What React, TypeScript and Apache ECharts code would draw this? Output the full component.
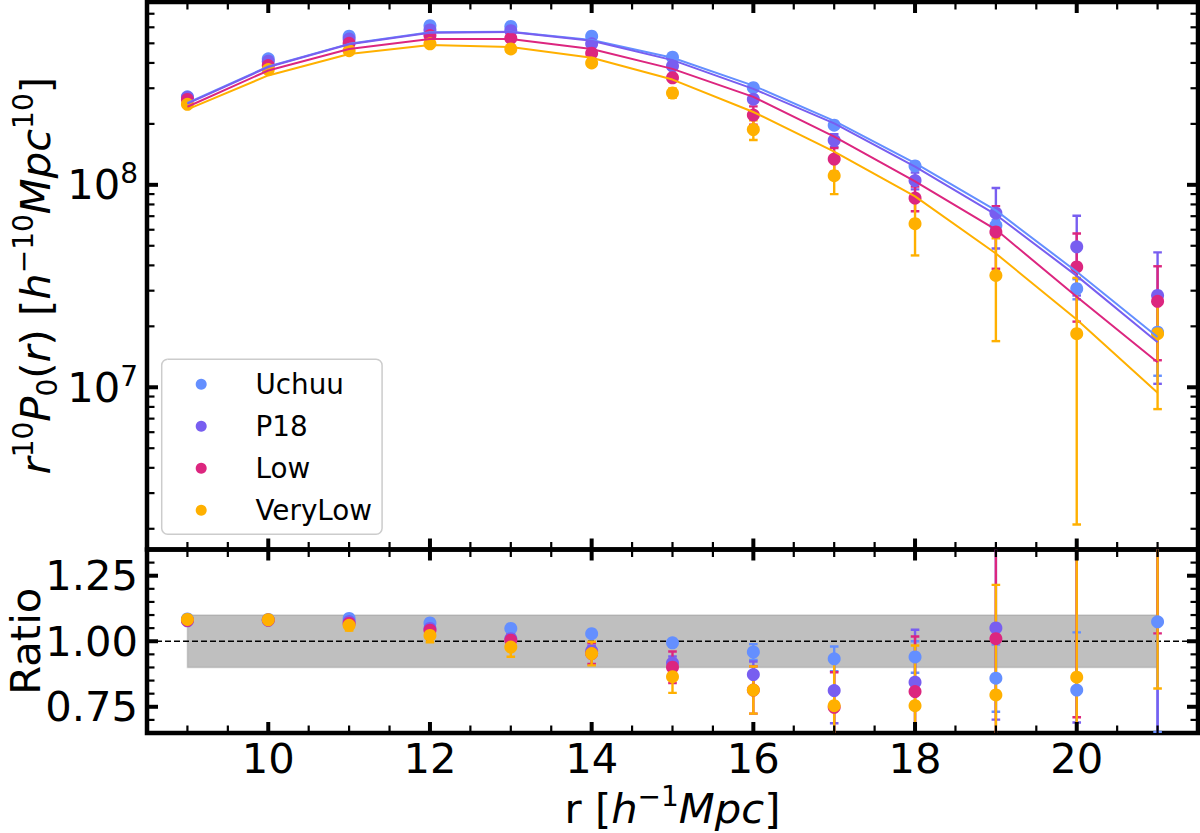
import React, { useEffect, useRef } from 'react';
import * as echarts from 'echarts';

// ---------- data ----------
const rValues = [9, 10, 11, 12, 13, 14, 15, 16, 17, 18, 19, 20, 21];
const seriesNames = ['Uchuu', 'P18', 'Low', 'VeryLow'];
const seriesColors = ['#648FFF', '#785EF0', '#DC267F', '#FFB000'];

// r^10 P0(r) measurements
const uchuuP0 = [2.72e8, 4.19e8, 5.42e8, 6.11e8, 6.06e8, 5.42e8, 4.27e8, 3.02e8, 1.97e8, 1.24e8, 6.29e7, 3.07e7, 1.87e7];
const p18P0 = [2.70e8, 4.08e8, 5.25e8, 5.82e8, 5.77e8, 4.97e8, 3.86e8, 2.65e8, 1.66e8, 1.05e8, 7.25e7, 4.94e7, 2.84e7];
const lowP0 = [2.64e8, 3.88e8, 5.0e8, 5.46e8, 5.29e8, 4.47e8, 3.38e8, 2.21e8, 1.34e8, 8.6e7, 5.85e7, 3.93e7, 2.66e7];
const veryLowP0 = [2.5e8, 3.71e8, 4.6e8, 4.97e8, 4.69e8, 4.0e8, 2.84e8, 1.876e8, 1.11e8, 6.43e7, 3.57e7, 1.84e7, 1.84e7];

// 1-sigma errors
const uchuuP0Err = [3e6, 5e6, 6e6, 7e6, 7e6, 6e6, 5e6, 5e6, 5e6, 5e6, 4e6, 3.5e6, 7.3e6];
const p18P0Err = [4e6, 6e6, 8e6, 9e6, 9e6, 8e6, 7e6, 8e6, 1.2e7, 1.0e7, 2.4e7, 2.1e7, 1.8e7];
const lowP0Err = [5e6, 8e6, 1e7, 1.1e7, 1.1e7, 1.1e7, 1.2e7, 2.3e7, 1.8e7, 1.2e7, 2.0e7, 1.82e7, 1.3e7];
const veryLowP0Err = [6e6, 1e7, 1.2e7, 1.3e7, 1.4e7, 1.5e7, 1.5e7, 2.1e7, 2.1e7, 1.95e7, 1.88e7, 1.63e7, 1.06e7];

// model curves
const uchuuModel = [2.54e8, 3.84e8, 4.97e8, 5.67e8, 5.71e8, 5.19e8, 4.24e8, 3.09e8, 2.07e8, 1.28e8, 7.48e7, 3.72e7, 1.77e7];
const p18Model = [2.52e8, 3.82e8, 4.95e8, 5.64e8, 5.68e8, 5.15e8, 4.13e8, 2.98e8, 2.01e8, 1.23e8, 7.12e7, 3.55e7, 1.67e7];
const lowModel = [2.43e8, 3.67e8, 4.69e8, 5.25e8, 5.25e8, 4.69e8, 3.74e8, 2.72e8, 1.73e8, 1.04e8, 6.01e7, 2.8e7, 1.33e7];
const veryLowModel = [2.36e8, 3.47e8, 4.43e8, 4.91e8, 4.79e8, 4.24e8, 3.31e8, 2.29e8, 1.46e8, 8.77e7, 4.58e7, 2.16e7, 9.4e6];

// ratio panel
const uchuuRatio = [1.085, 1.083, 1.087, 1.07, 1.049, 1.029, 0.994, 0.959, 0.933, 0.94, 0.859, 0.814, 1.074];
const p18Ratio = [1.078, 1.08, 1.075, 1.049, 1.01, 0.963, 0.917, 0.873, 0.812, 0.844, 1.051, 1.39, 1.7];
const lowRatio = [1.08, 1.081, 1.068, 1.042, 1.004, 0.953, 0.901, 0.814, 0.748, 0.808, 1.01, 1.4, 2.0];
const veryLowRatio = [1.083, 1.082, 1.061, 1.022, 0.978, 0.953, 0.865, 0.814, 0.754, 0.754, 0.795, 0.863, 1.96];

const uchuuRatioErr = [0.008, 0.008, 0.01, 0.012, 0.012, 0.012, 0.015, 0.03, 0.047, 0.06, 0.128, 0.22, 0.42];
const p18RatioErr = [0.01, 0.01, 0.014, 0.016, 0.016, 0.02, 0.025, 0.05, 0.125, 0.2, 0.35, 0.7, 1.1];
const lowRatioErr = [0.012, 0.012, 0.018, 0.022, 0.025, 0.04, 0.06, 0.09, 0.134, 0.21, 0.4, 0.69, 0.97];
const veryLowRatioErr = [0.014, 0.014, 0.02, 0.026, 0.037, 0.045, 0.062, 0.09, 0.18, 0.23, 0.42, 0.75, 1.14];

const ratioBand = [0.9, 1.1];
const ratioBandR = [9, 21];
const ratioReference = 1.0;

// ticks
const xRange = [8.5, 21.5];
const xTickLabels = [10, 12, 14, 16, 18, 20];
const xMinorTicks = [9, 9.5, 10.5, 11, 11.5, 12.5, 13, 13.5, 14.5, 15, 15.5, 16.5, 17, 17.5, 18.5, 19, 19.5, 20.5, 21];
const topRange = [1.58e6, 8.0e8];
const topMajorTicks = [1e7, 1e8];
const topMinorTicks = [2e6, 3e6, 4e6, 5e6, 6e6, 7e6, 8e6, 9e6, 2e7, 3e7, 4e7, 5e7, 6e7, 7e7, 8e7, 9e7, 2e8, 3e8, 4e8, 5e8, 6e8, 7e8];
const ratioRange = [0.65, 1.35];
const ratioTickLabels = [0.75, 1.0, 1.25];
const ratioMinorTicks = [0.7, 0.8, 0.85, 0.9, 0.95, 1.05, 1.1, 1.15, 1.2, 1.3];

const measured = [uchuuP0, p18P0, lowP0, veryLowP0];
const measuredErr = [uchuuP0Err, p18P0Err, lowP0Err, veryLowP0Err];
const models = [uchuuModel, p18Model, lowModel, veryLowModel];
const ratios = [uchuuRatio, p18Ratio, lowRatio, veryLowRatio];
const ratiosErr = [uchuuRatioErr, p18RatioErr, lowRatioErr, veryLowRatioErr];

// ---------- style ----------
const FONT = 'DejaVu Sans';
const BIG = 41.67;
const SUP = 28;
const LEG = 27.8;

const titleRich = {
  n: { fontFamily: FONT, fontSize: BIG, lineHeight: 52, color: '#000' },
  i: { fontFamily: FONT, fontSize: BIG, lineHeight: 52, fontStyle: 'italic', color: '#000' },
  sup: { fontFamily: FONT, fontSize: SUP, lineHeight: 32, verticalAlign: 'top', color: '#000' },
  sub: { fontFamily: FONT, fontSize: SUP, lineHeight: 32, verticalAlign: 'bottom', color: '#000' },
};

function errorBarRender(color: string, lw: number) {
  return (params: any, api: any) => {
    const x = api.value(0);
    const p1 = api.coord([x, api.value(1)]);
    const p2 = api.coord([x, api.value(2)]);
    const cap = 4.3;
    const style = { stroke: color, lineWidth: lw, fill: 'none' };
    return {
      type: 'group',
      children: [
        { type: 'line', shape: { x1: p1[0], y1: p1[1], x2: p2[0], y2: p2[1] }, style },
        { type: 'line', shape: { x1: p1[0] - cap, y1: p1[1], x2: p1[0] + cap, y2: p1[1] }, style },
        { type: 'line', shape: { x1: p2[0] - cap, y1: p2[1], x2: p2[0] + cap, y2: p2[1] }, style },
      ],
    };
  };
}

function tickRender(params: any, api: any) {
  const cs = params.coordSys;
  const kind = api.value(2);
  const p = api.coord([api.value(0), api.value(1)]);
  const major = kind === 0 || kind === 2;
  const len = major ? 11 : 7.5;
  const style = { stroke: '#000', lineWidth: major ? 4 : 2.2 };
  if (kind < 2) {
    const yb = cs.y + cs.height;
    const yt = cs.y;
    return {
      type: 'group',
      children: [
        { type: 'line', shape: { x1: p[0], y1: yb, x2: p[0], y2: yb - len }, style },
        { type: 'line', shape: { x1: p[0], y1: yt, x2: p[0], y2: yt + len }, style },
      ],
    };
  }
  const xl = cs.x;
  const xr = cs.x + cs.width;
  return {
    type: 'group',
    children: [
      { type: 'line', shape: { x1: xl, y1: p[1], x2: xl + len, y2: p[1] }, style },
      { type: 'line', shape: { x1: xr, y1: p[1], x2: xr - len, y2: p[1] }, style },
    ],
  };
}

function tickData(xMajor: number[], xMinor: number[], yMajor: number[], yMinor: number[], xRef: number, yRef: number) {
  return [
    ...xMajor.map((v) => [v, yRef, 0]),
    ...xMinor.map((v) => [v, yRef, 1]),
    ...yMajor.map((v) => [xRef, v, 2]),
    ...yMinor.map((v) => [xRef, v, 3]),
  ];
}

function buildOption() {
  const series: any[] = [];

  // model lines (top)
  seriesNames.forEach((name, k) => {
    series.push({
      name: name + ' model',
      type: 'line',
      xAxisIndex: 0,
      yAxisIndex: 0,
      data: rValues.map((r, i) => [r, models[k][i]]),
      showSymbol: false,
      symbol: 'none',
      lineStyle: { color: seriesColors[k], width: 2 },
      itemStyle: { color: seriesColors[k] },
      silent: true,
    });
  });

  // error bars + points (top)
  seriesNames.forEach((name, k) => {
    series.push({
      name: name + ' error',
      type: 'custom',
      xAxisIndex: 0,
      yAxisIndex: 0,
      clip: true,
      encode: { x: 0, y: [1, 2] },
      data: rValues.map((r, i) => [r, measured[k][i] - measuredErr[k][i], measured[k][i] + measuredErr[k][i]]),
      renderItem: errorBarRender(seriesColors[k], 2.4),
      silent: true,
    });
    series.push({
      name,
      type: 'scatter',
      xAxisIndex: 0,
      yAxisIndex: 0,
      data: rValues.map((r, i) => [r, measured[k][i]]),
      symbol: 'circle',
      symbolSize: 13,
      itemStyle: { color: seriesColors[k], opacity: 1 },
      silent: true,
    });
  });

  // ratio band & reference line
  series.push({
    name: 'band',
    type: 'custom',
    xAxisIndex: 1,
    yAxisIndex: 1,
    encode: { x: [0, 2], y: [1, 3, 4] },
    data: [[ratioBandR[0], ratioBand[0], ratioBandR[1], ratioBand[1], ratioReference]],
    renderItem: (params: any, api: any) => {
      const cs = params.coordSys;
      const a = api.coord([api.value(0), api.value(1)]);
      const b = api.coord([api.value(2), api.value(3)]);
      const yRef = api.coord([api.value(0), api.value(4)])[1];
      return {
        type: 'group',
        children: [
          {
            type: 'rect',
            shape: { x: Math.min(a[0], b[0]), y: Math.min(a[1], b[1]), width: Math.abs(b[0] - a[0]), height: Math.abs(b[1] - a[1]) },
            style: { fill: 'rgba(128,128,128,0.5)', stroke: 'rgba(128,128,128,0.3)', lineWidth: 1.5 },
          },
          {
            type: 'line',
            shape: { x1: cs.x, y1: yRef, x2: cs.x + cs.width, y2: yRef },
            style: { stroke: '#000', lineWidth: 1.6, lineDash: [6, 3] },
          },
        ],
      };
    },
    silent: true,
  });

  // ratio error bars + points
  seriesNames.forEach((name, k) => {
    series.push({
      name: name + ' ratio error',
      type: 'custom',
      xAxisIndex: 1,
      yAxisIndex: 1,
      clip: true,
      encode: { x: 0, y: [1, 2] },
      data: rValues.map((r, i) => [r, ratios[k][i] - ratiosErr[k][i], ratios[k][i] + ratiosErr[k][i]]),
      renderItem: errorBarRender(seriesColors[k], 2.4),
      silent: true,
    });
    series.push({
      name: name + ' ratio',
      type: 'scatter',
      xAxisIndex: 1,
      yAxisIndex: 1,
      clip: true,
      data: rValues.map((r, i) => [r, ratios[k][i]]),
      symbol: 'circle',
      symbolSize: 13,
      itemStyle: { color: seriesColors[k], opacity: 1 },
      silent: true,
    });
  });

  // ticks
  series.push({
    name: 'ticks top',
    type: 'custom',
    xAxisIndex: 0,
    yAxisIndex: 0,
    encode: { x: 0, y: 1 },
    data: tickData(xTickLabels, xMinorTicks, topMajorTicks, topMinorTicks, 15, 1e8),
    renderItem: tickRender,
    silent: true,
    z: 10,
  });
  series.push({
    name: 'ticks ratio',
    type: 'custom',
    xAxisIndex: 1,
    yAxisIndex: 1,
    encode: { x: 0, y: 1 },
    data: tickData(xTickLabels, xMinorTicks, ratioTickLabels, ratioMinorTicks, 15, 1.0),
    renderItem: tickRender,
    silent: true,
    z: 10,
  });

  const hiddenAxisParts = {
    axisLine: { show: false },
    axisTick: { show: false },
    splitLine: { show: false },
    minorTick: { show: false },
    minorSplitLine: { show: false },
  };

  return {
    animation: false,
    backgroundColor: '#ffffff',
    textStyle: { fontFamily: FONT },
    grid: [
      { left: 147, top: 2, width: 1051, height: 547.5, show: true, borderColor: '#000', borderWidth: 4.5, backgroundColor: 'transparent', outerBoundsMode: 'none', containLabel: false },
      { left: 147, top: 549.5, width: 1051, height: 183.5, show: true, borderColor: '#000', borderWidth: 4.5, backgroundColor: 'transparent', outerBoundsMode: 'none', containLabel: false },
    ],
    xAxis: [
      {
        type: 'value', gridIndex: 0, min: xRange[0], max: xRange[1],
        ...hiddenAxisParts,
        axisLabel: { show: false },
      },
      {
        type: 'value', gridIndex: 1, min: xRange[0], max: xRange[1],
        ...hiddenAxisParts,
        axisLabel: {
          show: true, customValues: xTickLabels, margin: 4,
          fontSize: BIG, fontFamily: FONT, color: '#000',
          formatter: (v: number) => String(v),
        },
        name: '{n|r [}{i|h}{sup|−1}{i|Mpc}{n|]}',
        nameLocation: 'middle',
        nameGap: 49,
        nameMoveOverlap: false,
        nameTextStyle: { fontSize: BIG, fontFamily: FONT, color: '#000', lineHeight: 52, rich: titleRich },
      },
    ],
    yAxis: [
      {
        type: 'log', logBase: 10, gridIndex: 0, min: topRange[0], max: topRange[1],
        ...hiddenAxisParts,
        axisLabel: {
          show: true, margin: 9, color: '#000',
          formatter: (v: number) => {
            const e = Math.log10(v);
            const re = Math.round(e);
            if (Math.abs(e - re) < 1e-6) return '{b|10}{s|' + re + '}';
            return '';
          },
          rich: {
            b: { fontFamily: FONT, fontSize: BIG, lineHeight: 50, color: '#000' },
            s: { fontFamily: FONT, fontSize: SUP, lineHeight: 30, verticalAlign: 'top', color: '#000' },
          },
        },
        name: '{i|r}{sup|10}{i|P}{sub|0}{n|(}{i|r}{n|) [}{i|h}{sup|−10}{i|Mpc}{sup|10}{n|]}',
        nameLocation: 'middle',
        nameRotate: 90,
        nameGap: 86,
        nameMoveOverlap: false,
        nameTextStyle: { fontSize: BIG, fontFamily: FONT, color: '#000', lineHeight: 52, rich: titleRich },
      },
      {
        type: 'value', gridIndex: 1, min: ratioRange[0], max: ratioRange[1],
        ...hiddenAxisParts,
        axisLabel: {
          show: true, customValues: ratioTickLabels, margin: 9,
          fontSize: BIG, fontFamily: FONT, color: '#000',
          formatter: (v: number) => v.toFixed(2),
        },
        name: 'Ratio',
        nameLocation: 'middle',
        nameRotate: 90,
        nameGap: 102,
        nameMoveOverlap: false,
        nameTextStyle: { fontSize: BIG, fontFamily: FONT, color: '#000', lineHeight: 40 },
      },
    ],
    legend: {
      show: true,
      data: seriesNames.map((n) => ({ name: n, icon: 'circle' })),
      orient: 'vertical',
      left: 161.7,
      top: 359.3,
      padding: [4, 10, 3, 34],
      itemWidth: 78.6,
      itemHeight: 11,
      itemGap: 0,
      selectedMode: false,
      backgroundColor: 'rgba(255,255,255,0.8)',
      borderColor: '#cccccc',
      borderWidth: 1.5,
      borderRadius: 6,
      textStyle: { fontSize: LEG, fontFamily: FONT, color: '#000', lineHeight: 42, padding: [0, 0, 0, 10] },
    },
    series,
  };
}

export default function App() {
  const ref = useRef<HTMLDivElement>(null);
  useEffect(() => {
    if (!ref.current) return;
    const chart = echarts.init(ref.current, undefined, { renderer: 'svg' });
    chart.setOption(buildOption() as any);
    return () => chart.dispose();
  }, []);
  return (
    <div
      ref={ref}
      style={{ position: 'fixed', left: 0, top: 0, width: 1200, height: 833, background: '#fff' }}
    />
  );
}
